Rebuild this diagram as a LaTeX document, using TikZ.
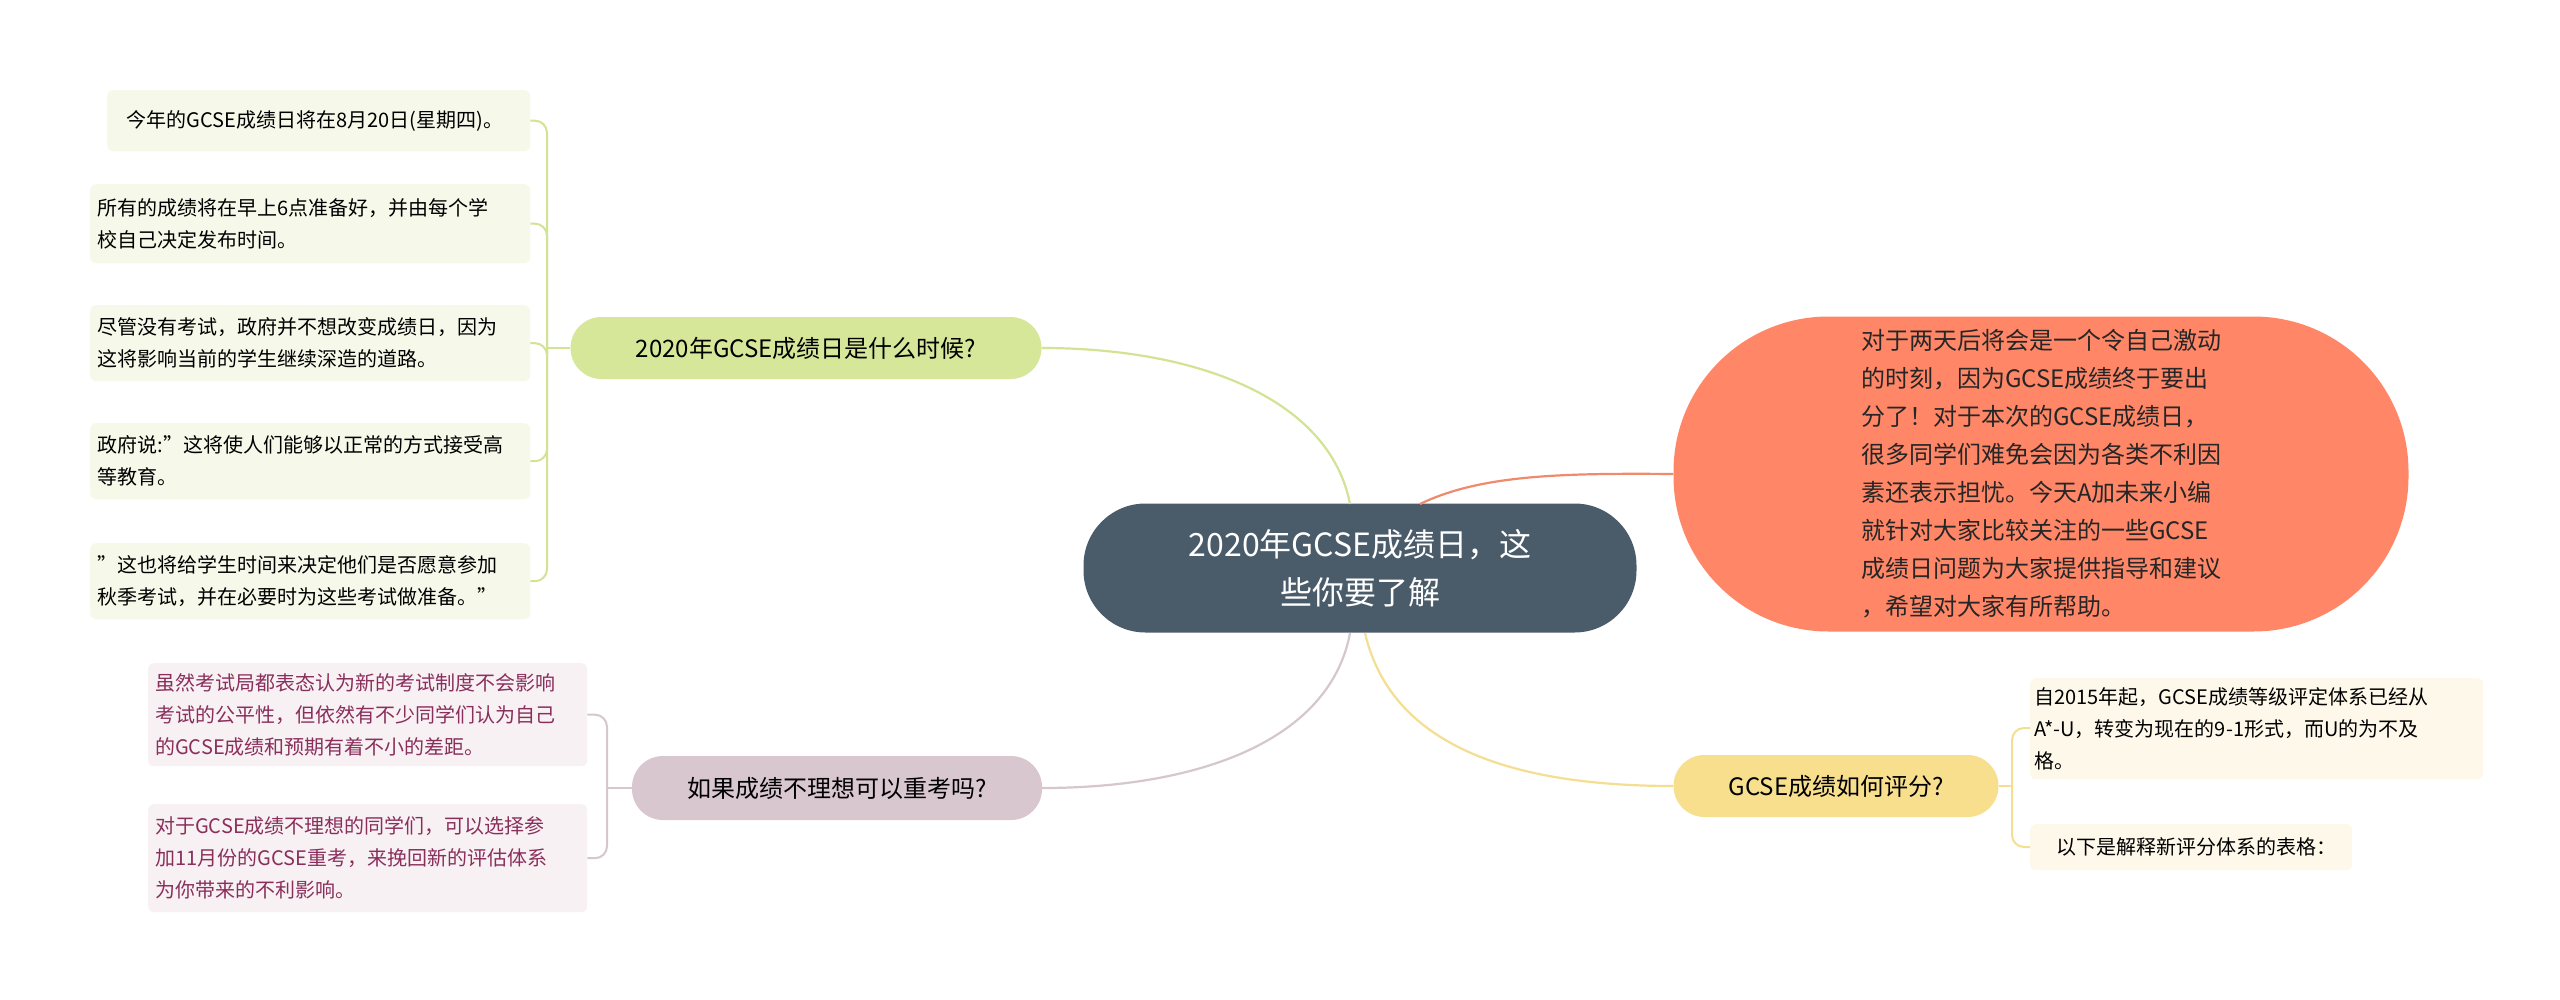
\documentclass[tikz,border=0pt]{standalone}
\usepackage{fontspec}
\setmainfont{Noto Sans CJK SC}
\XeTeXlinebreaklocale "zh"
\newcommand{\qq}{\symbol{34}}
\begin{document}
\begin{tikzpicture}[x=1pt,y=-1pt,
 leaf/.style={rounded corners=6pt,inner sep=0pt,anchor=north west,font=\fontsize{20}{32}\selectfont}]
\definecolor{gB}{HTML}{D6E79A}\definecolor{gL}{HTML}{F6F9EA}\definecolor{gC}{HTML}{D2E394}
\definecolor{pB}{HTML}{D9C7CF}\definecolor{pL}{HTML}{F8F1F4}\definecolor{pC}{HTML}{D6C6CD}\definecolor{pT}{HTML}{8A2F5C}
\definecolor{yB}{HTML}{F8DF8E}\definecolor{yL}{HTML}{FDF8EA}\definecolor{yC}{HTML}{F4DE92}
\definecolor{cN}{HTML}{4A5B6A}\definecolor{oN}{HTML}{FF8767}\definecolor{oC}{HTML}{EF8A6C}
\useasboundingbox (0,0) rectangle (2560,999);
\fill[white] (0,0) rectangle (2560,999);
% center
\node[fill=cN,rounded corners=62pt,minimum width=553pt,minimum height=129pt,text=white,font=\fontsize{32}{48}\selectfont,align=center] (c) at (1360,568) {2020年GCSE成绩日，这\\些你要了解};
% orange
\node[fill=oN,rounded corners=155pt,minimum width=735pt,minimum height=315pt,font=\fontsize{24}{38}\selectfont,align=left,text=black!85] (o) at (2041,474) {对于两天后将会是一个令自己激动\\的时刻，因为GCSE成绩终于要出\\分了！对于本次的GCSE成绩日，\\很多同学们难免会因为各类不利因\\素还表示担忧。今天A加未来小编\\就针对大家比较关注的一些GCSE\\成绩日问题为大家提供指导和建议\\，希望对大家有所帮助。};
% branches
\node[fill=gB,rounded corners=31pt,minimum width=471pt,minimum height=62pt,font=\fontsize{24}{30}\selectfont] (g) at (806,348) {2020年GCSE成绩日是什么时候?};
\node[fill=pB,rounded corners=31pt,minimum width=410pt,minimum height=64pt,font=\fontsize{24}{30}\selectfont] (p) at (837,788) {如果成绩不理想可以重考吗?};
\node[fill=yB,rounded corners=31pt,minimum width=325pt,minimum height=62pt,font=\fontsize{24}{30}\selectfont] (y) at (1836,786) {GCSE成绩如何评分?};
% green leaves
\node[leaf,fill=gL,minimum width=423pt,minimum height=61pt,text width=400pt,align=left] (g1) at (107,90) {\hspace*{8pt}今年的GCSE成绩日将在8月20日(星期四)。};
\node[leaf,fill=gL,minimum width=440pt,minimum height=79pt] (g2) at (90,184) {\parbox{425pt}{所有的成绩将在早上6点准备好，并由每个学\\校自己决定发布时间。}};
\node[leaf,fill=gL,minimum width=440pt,minimum height=76pt] (g3) at (90,305) {\parbox{425pt}{尽管没有考试，政府并不想改变成绩日，因为\\这将影响当前的学生继续深造的道路。}};
\node[leaf,fill=gL,minimum width=440pt,minimum height=76pt] (g4) at (90,423) {\parbox{425pt}{政府说:\qq 这将使人们能够以正常的方式接受高\\等教育。}};
\node[leaf,fill=gL,minimum width=440pt,minimum height=76pt] (g5) at (90,543) {\parbox{425pt}{\qq 这也将给学生时间来决定他们是否愿意参加\\秋季考试，并在必要时为这些考试做准备。\qq}};
% pink leaves
\node[leaf,fill=pL,text=pT,minimum width=439pt,minimum height=103pt] (p1) at (148,663) {\parbox{425pt}{虽然考试局都表态认为新的考试制度不会影响\\考试的公平性，但依然有不少同学们认为自己\\的GCSE成绩和预期有着不小的差距。}};
\node[leaf,fill=pL,text=pT,minimum width=439pt,minimum height=108pt] (p2) at (148,804) {\parbox{425pt}{对于GCSE成绩不理想的同学们，可以选择参\\加11月份的GCSE重考，来挽回新的评估体系\\为你带来的不利影响。}};
% yellow leaves
\node[leaf,fill=yL,minimum width=453pt,minimum height=101pt] (y1) at (2030,678) {\parbox{445pt}{自2015年起，GCSE成绩等级评定体系已经从\\A*-U，转变为现在的9-1形式，而U的为不及\\格。}};
\node[leaf,fill=yL,minimum width=322pt,minimum height=46pt] (y2) at (2030,824) {\hspace*{10pt}以下是解释新评分体系的表格：};
% central connectors
\draw[gC,line width=2.2pt] (1350,504) .. controls (1330,400) and (1200,348) .. (g.east);
\draw[oC,line width=2.2pt] (1420,504) .. controls (1480,475) and (1560,473) .. (o.west);
\draw[yC,line width=2.2pt] (1365,633) .. controls (1390,740) and (1500,786) .. (y.west);
\draw[pC,line width=2.2pt] (1350,633) .. controls (1330,740) and (1200,788) .. (p.east);
% brackets
\coordinate (gj) at (547,348);
\draw[gC,line width=2pt] (g.west) -- (gj);
\foreach \n in {g1,g2,g3,g4,g5}{\draw[gC,line width=2pt,rounded corners=12pt] (gj) |- (\n.east);}
\coordinate (pj) at (607,788);
\draw[pC,line width=2pt] (p.west) -- (pj);
\foreach \n in {p1,p2}{\draw[pC,line width=2pt,rounded corners=12pt] (pj) |- (\n.east);}
\coordinate (yj) at (2012,786);
\draw[yC,line width=2pt] (y.east) -- (yj);
\draw[yC,line width=2pt,rounded corners=12pt] (yj) |- (2030,728);
\draw[yC,line width=2pt,rounded corners=12pt] (yj) |- (2030,847);
\end{tikzpicture}
\end{document}
